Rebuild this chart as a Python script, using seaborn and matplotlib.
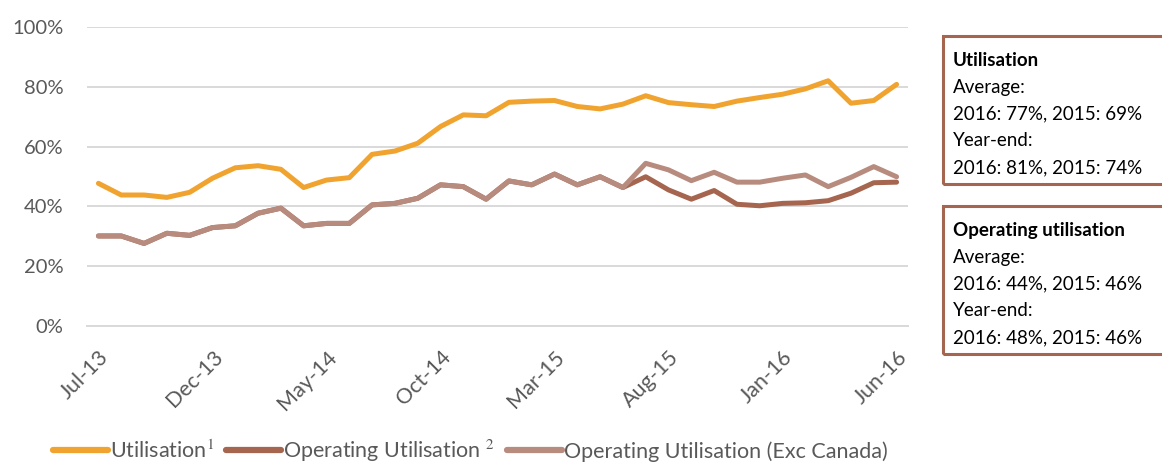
import pandas as pd
import matplotlib.pyplot as plt
import seaborn as sns
from matplotlib.patches import Rectangle
from matplotlib.ticker import PercentFormatter

months = ["Jul-13", "Aug-13", "Sep-13", "Oct-13", "Nov-13", "Dec-13", "Jan-14", "Feb-14",
          "Mar-14", "Apr-14", "May-14", "Jun-14", "Jul-14", "Aug-14", "Sep-14", "Oct-14",
          "Nov-14", "Dec-14", "Jan-15", "Feb-15", "Mar-15", "Apr-15", "May-15", "Jun-15",
          "Jul-15", "Aug-15", "Sep-15", "Oct-15", "Nov-15", "Dec-15", "Jan-16", "Feb-16",
          "Mar-16", "Apr-16", "May-16", "Jun-16"]

utilisation = [47.7, 43.8, 43.8, 43.0, 44.7, 49.4, 52.9, 53.6, 52.4, 46.3, 48.8, 49.6,
               57.4, 58.5, 61.1, 66.7, 70.6, 70.3, 74.8, 75.2, 75.4, 73.4, 72.6, 74.2,
               77.0, 74.7, 74.0, 73.4, 75.2, 76.4, 77.5, 79.3, 82.0, 74.5, 75.4, 80.8]

operating = [30.1, 30.1, 27.6, 31.0, 30.3, 32.9, 33.5, 37.7, 39.4, 33.5, 34.3, 34.3,
             40.5, 41.0, 42.7, 47.2, 46.6, 42.4, 48.5, 47.2, 50.8, 47.2, 49.9, 46.3,
             49.9, 45.5, 42.4, 45.3, 40.7, 40.2, 41.0, 41.2, 41.9, 44.4, 47.9, 48.1]

exc_canada = [30.1, 30.1, 27.6, 31.0, 30.3, 32.9, 33.5, 37.7, 39.4, 33.5, 34.3, 34.3,
              40.5, 41.0, 42.7, 47.2, 46.6, 42.4, 48.5, 47.2, 50.8, 47.2, 49.9, 46.3,
              54.4, 52.2, 48.6, 51.4, 48.1, 48.1, 49.4, 50.5, 46.6, 49.7, 53.3, 49.9]

series_names = ["Utilisation", "Operating Utilisation", "Operating Utilisation (Exc Canada)"]
legend_labels = ["Utilisation$^{1}$", "Operating Utilisation $^{2}$",
                 "Operating Utilisation (Exc Canada)"]
colors = ["#F0A32F", "#A6654F", "#B88B7F"]

box_titles = ["Utilisation", "Operating utilisation"]
box_lines = [["Average:", "2016: 77%, 2015: 69%", "Year-end:", "2016: 81%, 2015: 74%"],
             ["Average:", "2016: 44%, 2015: 46%", "Year-end:", "2016: 48%, 2015: 46%"]]

# long form table for seaborn
rows = []
for name, vals in zip(series_names, [utilisation, operating, exc_canada]):
    for i, v in enumerate(vals):
        rows.append({"idx": i, "month": months[i], "value": v, "series": name})
df = pd.DataFrame(rows)

sns.set_style("white")
plt.rcParams['font.family'] = ['Lato', 'DejaVu Sans']
plt.rcParams['mathtext.fontset'] = 'stix'

fig = plt.figure(figsize=(11.62, 4.65), dpi=100)
ax = fig.add_axes([0.0749, 0.299, 0.7065, 0.643])

sns.lineplot(data=df, x="idx", y="value", hue="series", hue_order=series_names,
             palette=colors, linewidth=3.6, ax=ax, legend=False,
             solid_capstyle="round", solid_joinstyle="round")

n = len(months)
ax.set_xlim(-0.5, n - 0.5)
ax.set_ylim(0, 100)
ax.yaxis.set_major_formatter(PercentFormatter(decimals=0))
ax.set_yticks(range(0, 101, 20))
ax.grid(axis="y", color="#d9d9d9", linewidth=1.4)
ax.set_axisbelow(True)
for s in ["left", "right", "top"]:
    ax.spines[s].set_visible(False)
ax.spines["bottom"].set_color("#d9d9d9")
ax.spines["bottom"].set_linewidth(1.4)

lab_idx = list(range(0, n, 5))
ax.set_xticks(lab_idx)
ax.set_xticklabels([months[i] for i in lab_idx], rotation=45, ha="right",
                   rotation_mode="anchor")
ax.set_xticks([i - 0.5 for i in lab_idx], minor=True)
ax.tick_params(axis="x", which="major", length=0, pad=15, labelsize=15.5, labelcolor="#595959")
ax.tick_params(axis="x", which="minor", length=7, width=1.4, color="#d9d9d9")
ax.tick_params(axis="y", length=0, pad=17, labelsize=14.5, labelcolor="#595959")
ax.set_xlabel("")
ax.set_ylabel("")

handles = [plt.Line2D([], [], color=c, linewidth=4.5, solid_capstyle="round") for c in colors]
fig.legend(handles, legend_labels, loc="center left", bbox_to_anchor=(53 / 1162, 1 - 451 / 465),
           ncol=3, frameon=False, fontsize=15.5, handlelength=2.55, handletextpad=0.1,
           columnspacing=0.55, borderpad=0, borderaxespad=0, labelcolor="#595959")

# summary boxes on the right
box_tops = [36, 206]
box_h = 148
W, H = 1162, 465
for top, title, lines in zip(box_tops, box_titles, box_lines):
    fig.add_artist(Rectangle((943 / W, 1 - (top + box_h) / H), 240 / W, box_h / H,
                             transform=fig.transFigure, fill=False,
                             edgecolor="#A6654F", linewidth=2.2, clip_on=False))
    y = top + 24
    fig.text(953 / W, 1 - y / H, title, fontsize=13.5, fontweight="bold",
             va="center", color="black")
    for ln in lines:
        y += 27
        fig.text(953 / W, 1 - y / H, ln, fontsize=13.5, va="center", color="black")

fig.savefig("out.png", dpi=100)
